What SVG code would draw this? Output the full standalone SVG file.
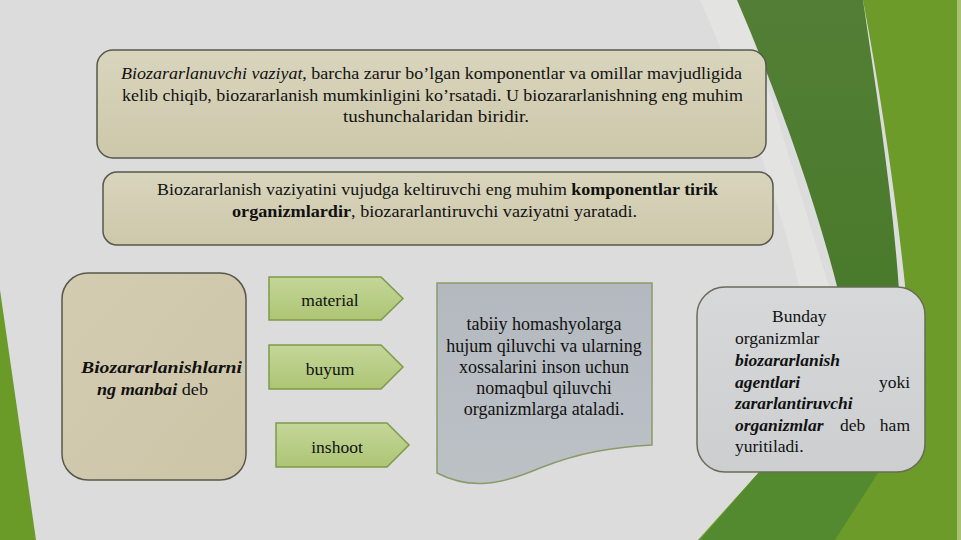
<svg xmlns="http://www.w3.org/2000/svg" width="961" height="540" viewBox="0 0 961 540">
<defs>
<linearGradient id="gBeige" x1="0" y1="0" x2="0" y2="1"><stop offset="0" stop-color="#d9d5bd"/><stop offset="1" stop-color="#cdc8aa"/></linearGradient>
<linearGradient id="gBeige2" x1="0" y1="0" x2="1" y2="1"><stop offset="0" stop-color="#d4ccb1"/><stop offset="1" stop-color="#cdc5a8"/></linearGradient>
<linearGradient id="gArrow" x1="0" y1="0" x2="0" y2="1"><stop offset="0" stop-color="#c4d699"/><stop offset="1" stop-color="#adc574"/></linearGradient>
<linearGradient id="gDoc" x1="0" y1="0" x2="0" y2="1"><stop offset="0" stop-color="#b3b9bf"/><stop offset="1" stop-color="#bcc1c6"/></linearGradient>
<linearGradient id="gGray" x1="0" y1="0" x2="0" y2="1"><stop offset="0" stop-color="#d7d8da"/><stop offset="1" stop-color="#cdced0"/></linearGradient>
<linearGradient id="gLeaf" x1="0" y1="0" x2="0" y2="1"><stop offset="0" stop-color="#527f35"/><stop offset="1" stop-color="#4a7a2c"/></linearGradient>
</defs>
<style>
.t{font-size:17.5px;fill:#111;}
.d{font-size:18px;fill:#111;}
.bi{font-weight:bold;font-style:italic;}
.b{font-weight:bold;}
.i{font-style:italic;}
.box{stroke:#56584b;stroke-width:1.5;}
.arrow{fill:url(#gArrow);stroke:#7d9a4a;stroke-width:1.5;}
</style>
<!-- background -->
<rect x="0" y="0" width="961" height="540" fill="#dcdcdc"/>
<path d="M700,0 L740,0 C760,60 790,160 830,290 L800,290 C780,200 740,90 700,0 Z" fill="#e3e4e2"/>
<path d="M850,0 L961,0 L961,540 L698,540 L768,462 L900,462 L905,285 C895,190 880,90 863,0 Z" fill="#6c9b2a"/>
<path d="M737,0 L863,0 C876,90 892,190 899,290 L838,290 C815,200 780,100 737,0 Z" fill="url(#gLeaf)"/>
<path d="M700,540 L768,462 L885,462 L835,540 Z" fill="#548a2f"/>
<rect x="957" y="0" width="4" height="540" fill="#a9c172"/>
<path d="M0,290 L36,540 L0,540 Z" fill="#6a9a28"/>

<g font-family="'Liberation Serif', 'Times New Roman', 'DejaVu Serif', serif">
<g id="box-top">
<rect class="box" x="97" y="50" width="669" height="108" rx="16" fill="url(#gBeige)"/>
<text class="t" x="121" y="79" textLength="621" lengthAdjust="spacingAndGlyphs"><tspan class="i">Biozararlanuvchi vaziyat</tspan>, barcha zarur bo’lgan komponentlar va omillar mavjudligida</text>
<text class="t" x="122" y="101" textLength="621" lengthAdjust="spacingAndGlyphs">kelib chiqib, biozararlanish mumkinligini ko’rsatadi. U biozararlanishning eng muhim</text>
<text class="t" x="343" y="122" textLength="186" lengthAdjust="spacingAndGlyphs">tushunchalaridan biridir.</text>
</g>

<g id="box-second">
<rect class="box" x="103" y="172" width="670" height="73" rx="14" fill="url(#gBeige)"/>
<text class="t" x="157" y="195" textLength="561" lengthAdjust="spacingAndGlyphs">Biozararlanish vaziyatini vujudga keltiruvchi eng muhim <tspan class="b">komponentlar tirik</tspan></text>
<text class="t" x="232" y="217" textLength="405" lengthAdjust="spacingAndGlyphs"><tspan class="b">organizmlardir</tspan>,  biozararlantiruvchi vaziyatni yaratadi.</text>
</g>

<g id="box-source">
<rect class="box" x="62" y="273" width="184" height="207" rx="26" fill="url(#gBeige2)"/>
<text class="t bi" x="81" y="373" textLength="161" lengthAdjust="spacingAndGlyphs">Biozararlanishlarni</text>
<text class="t" x="97" y="395" textLength="111" lengthAdjust="spacingAndGlyphs"><tspan class="bi">ng manbai</tspan> deb</text>
</g>

<g id="arrow-material">
<path class="arrow" d="M269,277 L381,277 L403,298.5 L381,320 L269,320 Z"/>
<text class="t" x="330" y="306" text-anchor="middle">material</text>
</g>
<g id="arrow-buyum">
<path class="arrow" d="M269,345 L381,345 L403,367 L381,389 L269,389 Z"/>
<text class="t" x="330" y="375" text-anchor="middle">buyum</text>
</g>
<g id="arrow-inshoot">
<path class="arrow" d="M276,423 L387,423 L409,445 L387,467 L276,467 Z"/>
<text class="t" x="337" y="453" text-anchor="middle">inshoot</text>
</g>

<g id="doc">
<path d="M437,283 L652,283 L652,445 C615,447 580,452 540,468 C500,485 470,490 437,473 Z" fill="url(#gDoc)" stroke="#8c9a6a" stroke-width="1.5"/>
<g class="d" text-anchor="middle">
<text x="544" y="330">tabiiy homashyolarga</text>
<text x="544" y="352">hujum qiluvchi va ularning</text>
<text x="544" y="373">xossalarini inson uchun</text>
<text x="544" y="394">nomaqbul qiluvchi</text>
<text x="544" y="415">organizmlarga ataladi.</text>
</g>
</g>

<g id="box-agents">
<rect x="697" y="287" width="228" height="185" rx="28" fill="url(#gGray)" stroke="#6a6b58" stroke-width="1.5"/>
<text class="t" x="772" y="322">Bunday</text>
<text class="t" x="735" y="344">organizmlar</text>
<text class="t bi" x="735" y="366">biozararlanish</text>
<text class="t bi" x="735" y="388">agentlari</text>
<text class="t" x="910" y="388" text-anchor="end">yoki</text>
<text class="t bi" x="735" y="409">zararlantiruvchi</text>
<text class="t bi" x="735" y="431">organizmlar</text>
<text class="t" x="840" y="431">deb</text>
<text class="t" x="910" y="431" text-anchor="end">ham</text>
<text class="t" x="735" y="452">yuritiladi.</text>
</g>
</g>
</svg>
